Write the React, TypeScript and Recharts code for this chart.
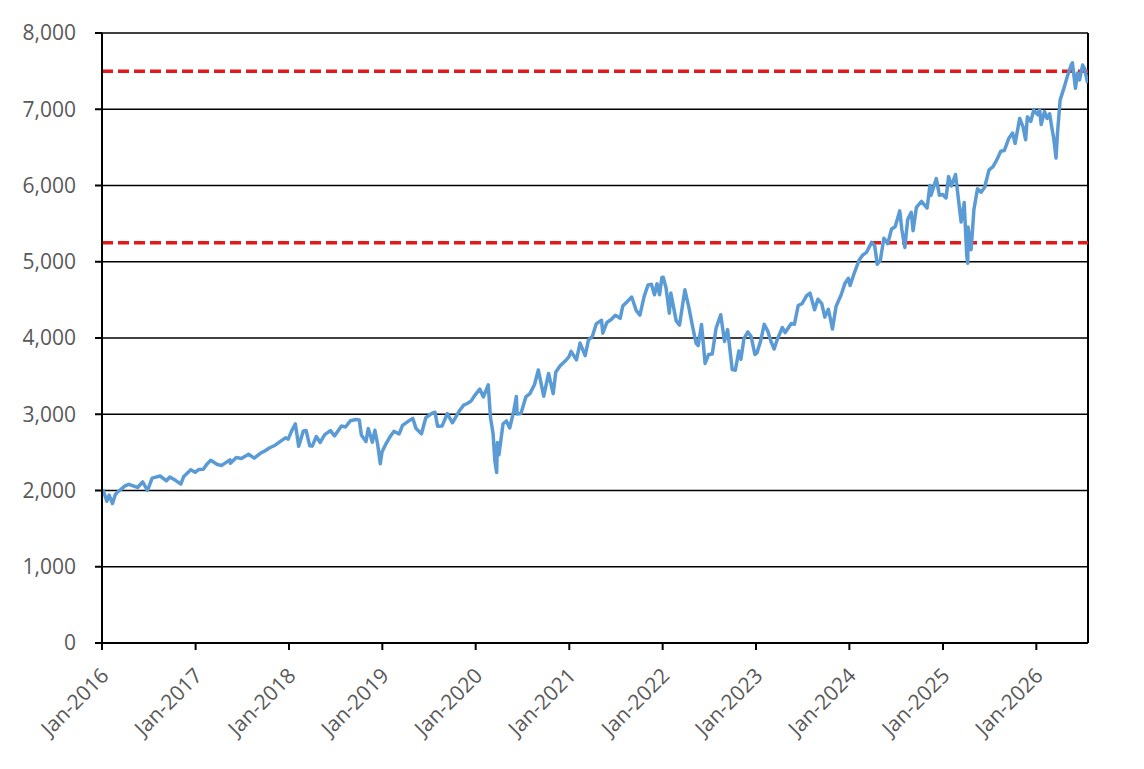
import React from 'react';
import { LineChart, Line, XAxis, YAxis, CartesianGrid, ReferenceLine } from 'recharts';

// Index level readings, roughly two per month plus the turning points
const DATES = [
  '2016-01-04', '2016-01-12', '2016-01-20', '2016-01-29', '2016-02-11', '2016-02-22', '2016-03-01', '2016-03-15',
  '2016-03-31', '2016-04-15', '2016-04-29', '2016-05-19', '2016-06-08', '2016-06-27', '2016-07-15', '2016-08-15',
  '2016-09-09', '2016-09-22', '2016-10-14', '2016-11-04', '2016-11-15', '2016-12-13', '2016-12-30',
  '2017-01-13', '2017-01-31', '2017-02-15', '2017-03-01', '2017-03-27', '2017-04-13', '2017-05-15', '2017-05-17',
  '2017-06-09', '2017-06-29', '2017-07-27', '2017-08-18', '2017-09-11', '2017-09-29', '2017-10-16', '2017-11-08',
  '2017-11-30', '2017-12-18', '2017-12-29',
  '2018-01-12', '2018-01-26', '2018-02-08', '2018-02-26', '2018-03-09', '2018-03-23', '2018-04-02', '2018-04-18',
  '2018-05-03', '2018-05-21', '2018-06-12', '2018-06-28', '2018-07-25', '2018-08-10', '2018-08-29', '2018-09-20',
  '2018-10-03', '2018-10-11', '2018-10-29', '2018-11-07', '2018-11-23', '2018-12-03', '2018-12-14', '2018-12-24',
  '2018-12-31',
  '2019-01-15', '2019-01-31', '2019-02-15', '2019-03-08', '2019-03-21', '2019-04-12', '2019-04-30', '2019-05-13',
  '2019-06-03', '2019-06-20', '2019-07-15', '2019-07-26', '2019-08-05', '2019-08-23', '2019-09-12', '2019-10-02',
  '2019-10-28', '2019-11-15', '2019-11-29', '2019-12-13', '2019-12-27',
  '2020-01-17', '2020-01-31', '2020-02-19', '2020-02-28', '2020-03-09', '2020-03-16', '2020-03-23', '2020-03-26',
  '2020-04-01', '2020-04-17', '2020-04-30', '2020-05-13', '2020-05-29', '2020-06-08', '2020-06-11', '2020-06-26',
  '2020-07-15', '2020-07-31', '2020-08-18', '2020-09-02', '2020-09-23', '2020-10-12', '2020-10-30', '2020-11-09',
  '2020-11-27', '2020-12-15', '2020-12-31',
  '2021-01-08', '2021-01-29', '2021-02-12', '2021-03-04', '2021-03-17', '2021-04-01', '2021-04-16', '2021-05-07',
  '2021-05-12', '2021-05-28', '2021-06-15', '2021-06-30', '2021-07-19', '2021-07-29', '2021-08-16', '2021-09-02',
  '2021-09-20', '2021-10-04', '2021-10-21', '2021-11-05', '2021-11-18', '2021-11-30', '2021-12-10', '2021-12-20',
  '2021-12-29',
  '2022-01-03', '2022-01-14', '2022-01-27', '2022-02-02', '2022-02-23', '2022-03-08', '2022-03-29', '2022-04-14',
  '2022-04-29', '2022-05-12', '2022-05-20', '2022-06-02', '2022-06-16', '2022-06-30', '2022-07-14', '2022-07-29',
  '2022-08-16', '2022-08-31', '2022-09-12', '2022-09-30', '2022-10-12', '2022-10-26', '2022-11-03', '2022-11-15',
  '2022-11-30', '2022-12-13', '2022-12-28',
  '2023-01-05', '2023-01-20', '2023-02-02', '2023-02-16', '2023-03-01', '2023-03-13', '2023-03-24', '2023-04-14',
  '2023-04-25', '2023-05-19', '2023-05-31', '2023-06-15', '2023-06-30', '2023-07-18', '2023-07-31', '2023-08-18',
  '2023-08-31', '2023-09-15', '2023-09-27', '2023-10-11', '2023-10-27', '2023-11-10', '2023-11-30', '2023-12-15',
  '2023-12-28',
  '2024-01-04', '2024-01-19', '2024-02-09', '2024-02-22', '2024-03-08', '2024-03-28', '2024-04-09', '2024-04-19',
  '2024-05-01', '2024-05-15', '2024-05-30', '2024-06-14', '2024-06-28', '2024-07-16', '2024-07-24', '2024-08-05',
  '2024-08-16', '2024-08-30', '2024-09-06', '2024-09-19', '2024-10-09', '2024-10-31', '2024-11-11', '2024-11-15',
  '2024-12-06', '2024-12-18', '2024-12-31',
  '2025-01-13', '2025-01-23', '2025-02-03', '2025-02-19', '2025-03-04', '2025-03-13', '2025-03-25', '2025-04-04',
  '2025-04-08', '2025-04-09', '2025-04-21', '2025-05-02', '2025-05-16', '2025-05-30', '2025-06-13', '2025-06-30',
  '2025-07-15', '2025-07-31', '2025-08-15', '2025-08-29', '2025-09-15', '2025-09-30', '2025-10-10', '2025-10-28',
  '2025-11-10', '2025-11-20', '2025-11-27', '2025-12-10', '2025-12-22',
  '2026-01-06', '2026-01-14', '2026-01-20', '2026-02-02', '2026-02-12', '2026-02-22', '2026-03-02', '2026-03-10',
  '2026-03-19', '2026-03-25', '2026-04-04', '2026-04-21', '2026-05-02', '2026-05-17', '2026-05-22', '2026-06-03',
  '2026-06-11', '2026-06-19', '2026-07-01', '2026-07-08', '2026-07-21',
];

const VALUES = [
  2016, 1938, 1859, 1940, 1829, 1946, 1978, 2015,
  2060, 2081, 2065, 2040, 2112, 2000, 2162, 2190,
  2128, 2177, 2133, 2085, 2180, 2271, 2239,
  2274, 2279, 2349, 2396, 2341, 2329, 2402, 2357,
  2432, 2419, 2475, 2425, 2488, 2519, 2557, 2594,
  2648, 2690, 2674,
  2786, 2873, 2581, 2780, 2786, 2588, 2582, 2708,
  2630, 2733, 2786, 2716, 2846, 2833, 2914, 2931,
  2926, 2728, 2641, 2814, 2633, 2790, 2600, 2351,
  2507,
  2610, 2704, 2775, 2743, 2855, 2907, 2946, 2812,
  2744, 2954, 3014, 3026, 2844, 2847, 3009, 2888,
  3039, 3120, 3141, 3169, 3240,
  3330, 3226, 3386, 2954, 2746, 2386, 2237, 2630,
  2470, 2875, 2912, 2820, 3044, 3232, 3002, 3009,
  3227, 3271, 3390, 3580, 3237, 3535, 3270, 3551,
  3638, 3694, 3756,
  3825, 3714, 3934, 3768, 3975, 4020, 4185, 4233,
  4063, 4204, 4246, 4298, 4258, 4419, 4479, 4537,
  4358, 4300, 4549, 4697, 4704, 4567, 4712, 4568,
  4793,
  4796, 4663, 4326, 4589, 4225, 4170, 4632, 4392,
  4132, 3930, 3901, 4177, 3667, 3785, 3790, 4130,
  4305, 3955, 4110, 3586, 3577, 3830, 3720, 3992,
  4080, 4019, 3783,
  3808, 3972, 4179, 4090, 3951, 3855, 3971, 4137,
  4071, 4191, 4180, 4426, 4450, 4555, 4589, 4370,
  4508, 4450, 4274, 4377, 4117, 4415, 4568, 4719,
  4783,
  4688, 4840, 5027, 5087, 5124, 5254, 5209, 4967,
  5018, 5308, 5236, 5431, 5460, 5667, 5427, 5186,
  5554, 5648, 5408, 5713, 5792, 5705, 6001, 5870,
  6090, 5872, 5882,
  5836, 6119, 5994, 6144, 5778, 5521, 5776, 5074,
  4982, 5457, 5158, 5686, 5958, 5912, 5977, 6205,
  6244, 6339, 6450, 6460, 6615, 6688, 6552, 6880,
  6770, 6600, 6900, 6840, 6990,
  6930, 6990, 6800, 6970, 6880, 6940, 6770, 6620,
  6360, 6700, 7120, 7300, 7430, 7580, 7610, 7275,
  7475, 7385, 7580, 7540, 7340,
];

const Y_TICKS = [0, 1000, 2000, 3000, 4000, 5000, 6000, 7000, 8000];
const X_TICK_YEARS = [2016, 2017, 2018, 2019, 2020, 2021, 2022, 2023, 2024, 2025, 2026];
const REF_LEVELS = [7500, 5250];

const START = Date.UTC(2016, 0, 1);
const END = Date.UTC(2026, 6, 22);

const MONTHS = ['Jan', 'Feb', 'Mar', 'Apr', 'May', 'Jun', 'Jul', 'Aug', 'Sep', 'Oct', 'Nov', 'Dec'];
const FONT = '"Open Sans", sans-serif';

const data = DATES.map((d, i) => ({ t: Date.parse(d + 'T00:00:00Z'), v: VALUES[i] }));
const xTicks = X_TICK_YEARS.map((y) => Date.UTC(y, 0, 1));

function fmtMonth(ts: number) {
  const d = new Date(ts);
  return `${MONTHS[d.getUTCMonth()]}-${d.getUTCFullYear()}`;
}

function DateTick(props: any) {
  const { x, y, payload } = props;
  return (
    <g transform={`translate(${x + 8},${y + 27})`}>
      <text transform="rotate(-45)" textAnchor="end" fill="#595959" fontSize={21} fontFamily={FONT}>
        {fmtMonth(payload.value)}
      </text>
    </g>
  );
}

export default function App() {
  return (
    <div style={{ position: 'absolute', left: 0, top: 0, background: '#fff' }}>
      <LineChart width={1144} height={769} data={data} margin={{ top: 33, right: 56, bottom: 16, left: 0 }}>
        <CartesianGrid vertical={false} stroke="#000" strokeWidth={1.5} strokeOpacity={1} />
        <XAxis
          dataKey="t"
          type="number"
          domain={[START, END]}
          ticks={xTicks}
          tick={<DateTick />}
          tickSize={7}
          tickMargin={0}
          height={110}
          interval={0}
          axisLine={{ stroke: '#000', strokeWidth: 2 }}
          tickLine={{ stroke: '#000', strokeWidth: 2 }}
          allowDataOverflow
        />
        <YAxis
          domain={[0, 8000]}
          ticks={Y_TICKS}
          width={102}
          interval={0}
          tickSize={7}
          tickMargin={19}
          tickFormatter={(v: number) => v.toLocaleString('en-US')}
          tick={{ fill: '#595959', fontSize: 21, fontFamily: FONT }}
          axisLine={{ stroke: '#000', strokeWidth: 2 }}
          tickLine={{ stroke: '#000', strokeWidth: 2 }}
        />
        <ReferenceLine x={END} stroke="#000" strokeWidth={2} />
        {REF_LEVELS.map((lvl) => (
          <ReferenceLine key={lvl} y={lvl} stroke="#E31A1C" strokeWidth={3.5} strokeDasharray="11 5" />
        ))}
        <Line
          type="linear"
          dataKey="v"
          stroke="#5B9BD5"
          strokeWidth={3.5}
          strokeLinejoin="round"
          dot={false}
          isAnimationActive={false}
        />
      </LineChart>
    </div>
  );
}
